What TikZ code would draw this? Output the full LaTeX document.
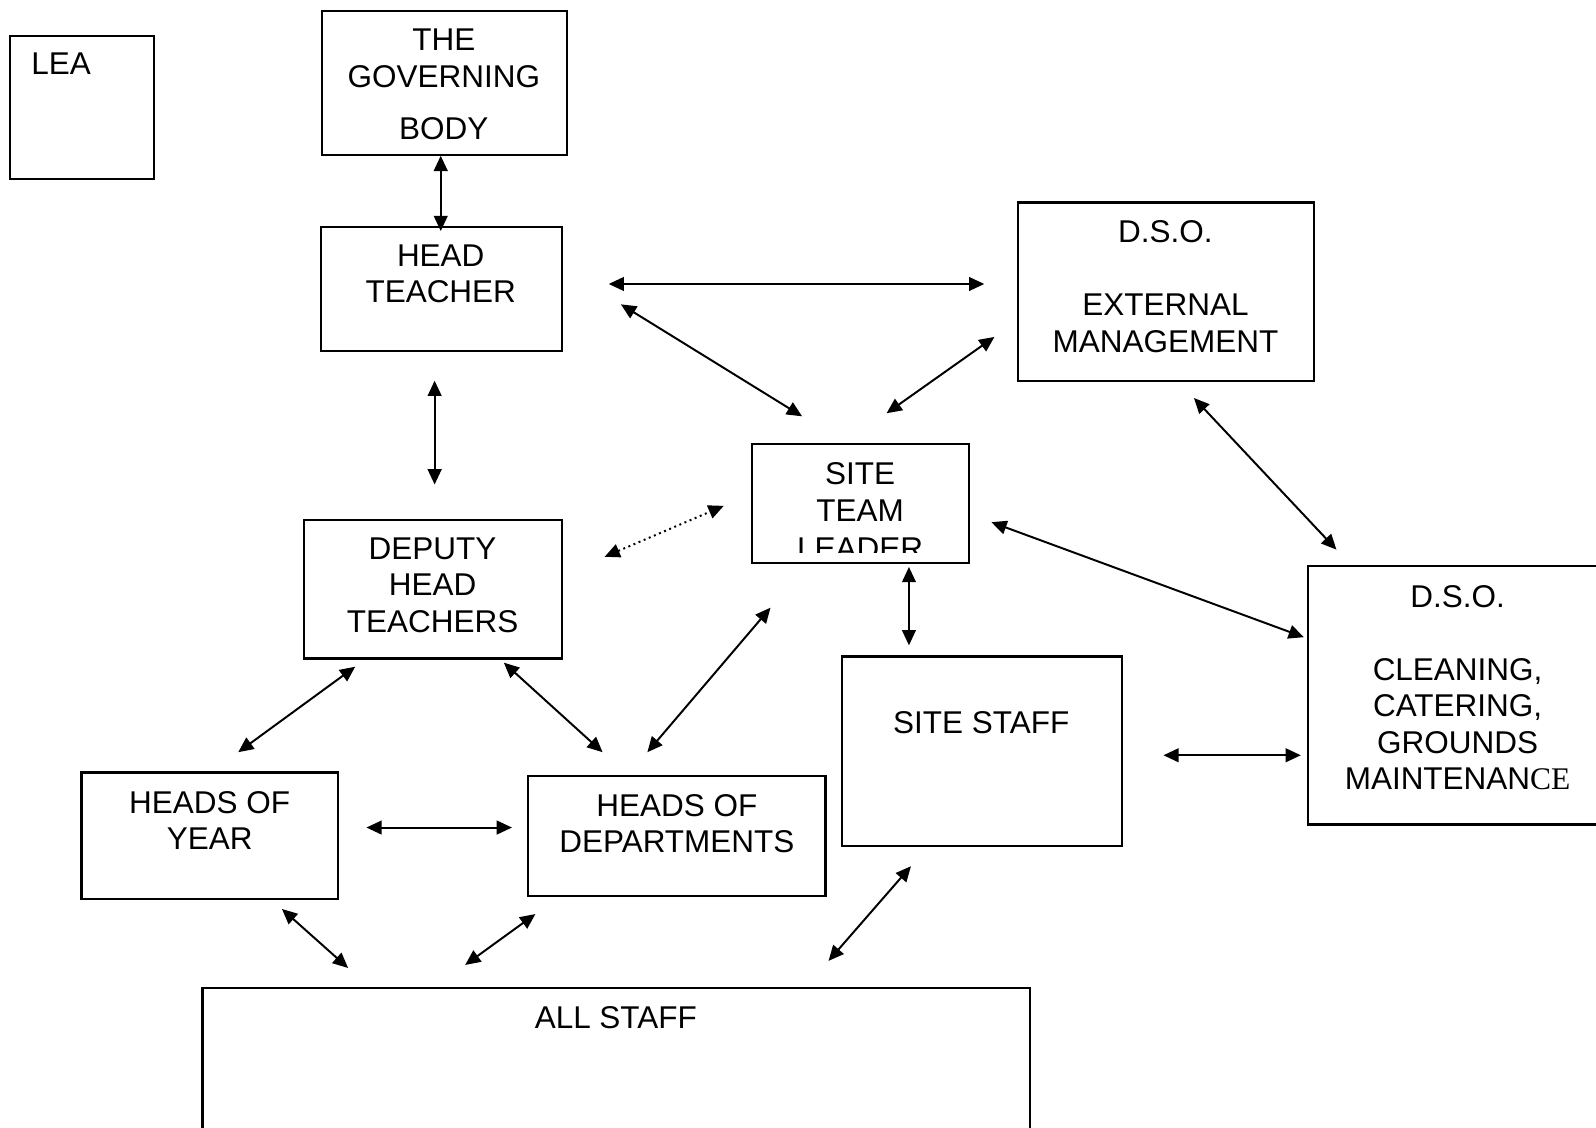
\documentclass[tikz,border=0pt]{standalone}
\usepackage{fontspec}
\setmainfont{Liberation Sans}
\newfontfamily\serifce{Liberation Serif}
\usetikzlibrary{arrows.meta}
\newcommand{\boxfont}{\fontsize{8.8}{10.2}\selectfont}

\begin{document}
\begin{tikzpicture}[
    box/.style={draw, line width=0.6pt, inner sep=0pt},
    txt/.style={font=\boxfont, align=center, inner sep=0pt},
    link/.style={line width=0.55pt, {Triangle[length=1.5mm,width=1.35mm]}-{Triangle[length=1.5mm,width=1.35mm]}}
]
    \clip (0,0) rectangle (15.68,-11.08);

    % Les cadres
    \node[box, minimum width=1.41cm, minimum height=1.41cm] (lea) at (0.805,-1.055) {};
    \node[box, minimum width=2.41cm, minimum height=1.41cm] (gb) at (4.365,-0.815) {};
    \node[box, minimum width=2.37cm, minimum height=1.22cm] (ht) at (4.335,-2.84) {};
    \node[box, minimum width=2.91cm, minimum height=1.75cm] (ext) at (11.455,-2.865) {};
    \node[box, minimum width=2.13cm, minimum height=1.17cm] (stl) at (8.455,-4.945) {};
    \node[box, minimum width=2.53cm, minimum height=1.36cm] (dht) at (4.255,-5.79) {};
    \node[box, minimum width=2.75cm, minimum height=1.86cm] (ss) at (9.645,-7.38) {};
    \node[box, minimum width=3.05cm, minimum height=2.54cm] (cl) at (14.375,-6.83) {};
    \node[box, minimum width=2.52cm, minimum height=1.24cm] (hoy) at (2.06,-8.21) {};
    \node[box, minimum width=2.92cm, minimum height=1.18cm] (hod) at (6.65,-8.21) {};
    \node[box, minimum width=8.13cm, minimum height=1.69cm] (all) at (6.055,-10.555) {};

    % Les textes
    \node[txt, anchor=west] (lea-t) at (0.30,-0.63) {LEA};
    \node[txt] (gb-t) at (4.36,-0.83) {THE\\GOVERNING\\[4.5pt]BODY};
    \node[txt] (ht-t) at (4.33,-2.69) {HEAD\\TEACHER};
    \node[txt] (ext-t) at (11.45,-2.815) {D.S.O.\\[10.2pt]EXTERNAL\\MANAGEMENT};
    \begin{scope}
        \clip (7.39,-4.36) rectangle (9.52,-5.43);
        \node[txt] (stl-t) at (8.45,-5.02) {SITE\\[0.3pt]TEAM\\[0.3pt]LEADER};
    \end{scope}
    \node[txt] (dht-t) at (4.25,-5.75) {DEPUTY\\HEAD\\TEACHERS};
    \node[txt] (ss-t) at (9.64,-7.10) {SITE STAFF};
    \node[txt] (cl-t) at (14.32,-6.755) {D.S.O.\\[10.2pt]CLEANING,\\CATERING,\\GROUNDS\\MAINTENAN{\serifce CE}};
    \node[txt] (hoy-t) at (2.06,-8.06) {HEADS OF\\YEAR};
    \node[txt] (hod-t) at (6.65,-8.09) {HEADS OF\\DEPARTMENTS};
    \node[txt] (all-t) at (6.05,-10.00) {ALL STAFF};

    % Bouts des flèches
    \coordinate (gbS) at (4.33,-1.53);
    \coordinate (htN) at (4.33,-2.27);
    \coordinate (htE) at (5.98,-2.79);
    \coordinate (extW) at (9.67,-2.79);
    \coordinate (htSE) at (6.10,-2.99);
    \coordinate (stlNW) at (7.88,-4.09);
    \coordinate (extSW) at (9.77,-3.31);
    \coordinate (stlNE) at (8.71,-4.06);
    \coordinate (htS) at (4.27,-3.74);
    \coordinate (dhtN) at (4.27,-4.76);
    \coordinate (dhtNE) at (5.94,-5.47);
    \coordinate (stlW) at (7.11,-4.97);
    \coordinate (extS) at (11.73,-3.91);
    \coordinate (clN) at (13.13,-5.40);
    \coordinate (stlE) at (9.74,-5.13);
    \coordinate (clW) at (12.81,-6.26);
    \coordinate (stlS) at (8.93,-5.57);
    \coordinate (ssN) at (8.93,-6.34);
    \coordinate (ssE) at (11.43,-7.42);
    \coordinate (clSW) at (12.78,-7.42);
    \coordinate (dhtSW) at (3.49,-6.55);
    \coordinate (hoyN) at (2.34,-7.39);
    \coordinate (dhtSE) at (4.95,-6.51);
    \coordinate (hodNW) at (5.92,-7.39);
    \coordinate (hodNE) at (6.36,-7.39);
    \coordinate (stlSW) at (7.57,-5.97);
    \coordinate (hoyE) at (3.60,-8.13);
    \coordinate (hodW) at (5.03,-8.13);
    \coordinate (hoyS) at (2.77,-8.93);
    \coordinate (allNW) at (3.42,-9.51);
    \coordinate (hodSW) at (5.26,-8.98);
    \coordinate (allN) at (4.57,-9.48);
    \coordinate (ssSW) at (8.95,-8.51);
    \coordinate (allNE) at (8.14,-9.44);

    % Les flèches
    \draw[link] (gbS) -- (htN);
    \draw[link] (htE) -- (extW);
    \draw[link] (htSE) -- (stlNW);
    \draw[link] (extSW) -- (stlNE);
    \draw[link] (htS) -- (dhtN);
    \draw[link, densely dotted] (dhtNE) -- (stlW);
    \draw[link] (extS) -- (clN);
    \draw[link] (stlE) -- (clW);
    \draw[link] (stlS) -- (ssN);
    \draw[link] (ssE) -- (clSW);
    \draw[link] (dhtSW) -- (hoyN);
    \draw[link] (dhtSE) -- (hodNW);
    \draw[link] (hodNE) -- (stlSW);
    \draw[link] (hoyE) -- (hodW);
    \draw[link] (hoyS) -- (allNW);
    \draw[link] (hodSW) -- (allN);
    \draw[link] (ssSW) -- (allNE);

\end{tikzpicture}
\end{document}
